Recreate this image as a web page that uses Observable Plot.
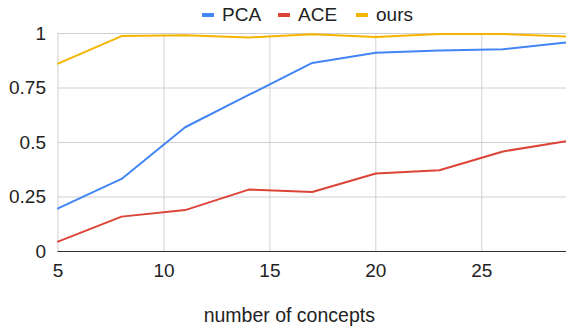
<!DOCTYPE html>
<html>
<head>
<meta charset="utf-8">
<script src="https://cdn.jsdelivr.net/npm/d3@7"></script>
<script src="https://cdn.jsdelivr.net/npm/@observablehq/plot@0.6"></script>
<style>
  body { margin: 0; background: #fff; font-family: "Liberation Sans", Arial, sans-serif; }
  #wrap { position: relative; width: 566px; height: 327px; overflow: hidden; }
  #legend { position: relative; height: 27px; font-size: 19px; color: #222; }
  .item { position: absolute; top: 4px; display: flex; align-items: center; height: 21px; }
  .sw { width: 12px; height: 4px; margin-right: 8px; }
  svg { display: block; }
</style>
</head>
<body>
<div id="wrap">
  <div id="legend"></div>
  <div id="chart"></div>
</div>
<script>
const concepts = [5, 8, 11, 14, 17, 20, 23, 26, 29];
const pca  = [0.198, 0.333, 0.570, 0.718, 0.865, 0.912, 0.922, 0.928, 0.959];
const ace  = [0.045, 0.160, 0.190, 0.284, 0.273, 0.358, 0.373, 0.459, 0.506];
const ours = [0.862, 0.988, 0.992, 0.982, 0.997, 0.984, 0.998, 0.998, 0.986];
const seriesNames = ["PCA", "ACE", "ours"];
const seriesColors = ["#4285f4", "#db4437", "#f4b400"];
const xTicks = [5, 10, 15, 20, 25];
const yTicks = [0, 0.25, 0.5, 0.75, 1];
const xTitle = "number of concepts";

const seriesValues = [pca, ace, ours];
const data = seriesNames.flatMap((name, i) =>
  concepts.map((c, j) => ({ series: name, x: c, y: seriesValues[i][j] })));

// legend
const legend = document.getElementById("legend");
const legendLeft = [202, 278, 356];
seriesNames.forEach((name, i) => {
  const it = document.createElement("div");
  it.className = "item";
  it.style.left = legendLeft[i] + "px";
  const sw = document.createElement("span");
  sw.className = "sw";
  sw.style.background = seriesColors[i];
  const tx = document.createElement("span");
  tx.textContent = name;
  it.appendChild(sw); it.appendChild(tx);
  legend.appendChild(it);
});

const chart = Plot.plot({
  width: 566,
  height: 300,
  marginTop: 6,
  marginRight: 0,
  marginLeft: 57.5,
  marginBottom: 76,
  style: { fontFamily: "'Liberation Sans', Arial, sans-serif", fontSize: "19px", color: "#222", background: "#fff", overflow: "visible" },
  x: { domain: [5, 29] },
  y: { domain: [0, 1] },
  color: { domain: seriesNames, range: seriesColors },
  marks: [
    Plot.gridX(xTicks, { stroke: "#d0d0d0", strokeOpacity: 1 }),
    Plot.gridY(yTicks, { stroke: "#d0d0d0", strokeOpacity: 1 }),
    Plot.lineY(data, { x: "x", y: "y", stroke: "series", strokeWidth: 2 }),
    Plot.ruleY([0], { stroke: "#333", strokeWidth: 1 }),
    Plot.axisX(xTicks, { tickSize: 0, tickPadding: 12, label: null, tickFormat: d => String(d) }),
    Plot.axisY(yTicks, { tickSize: 0, tickPadding: 12, label: null, tickFormat: d => String(d) }),
    Plot.text([xTitle], { text: d => d, frameAnchor: "bottom", lineAnchor: "top", dx: -23, dy: 57, fontSize: 19.5, fill: "#222" })
  ]
});
document.getElementById("chart").appendChild(chart);
</script>
</body>
</html>
